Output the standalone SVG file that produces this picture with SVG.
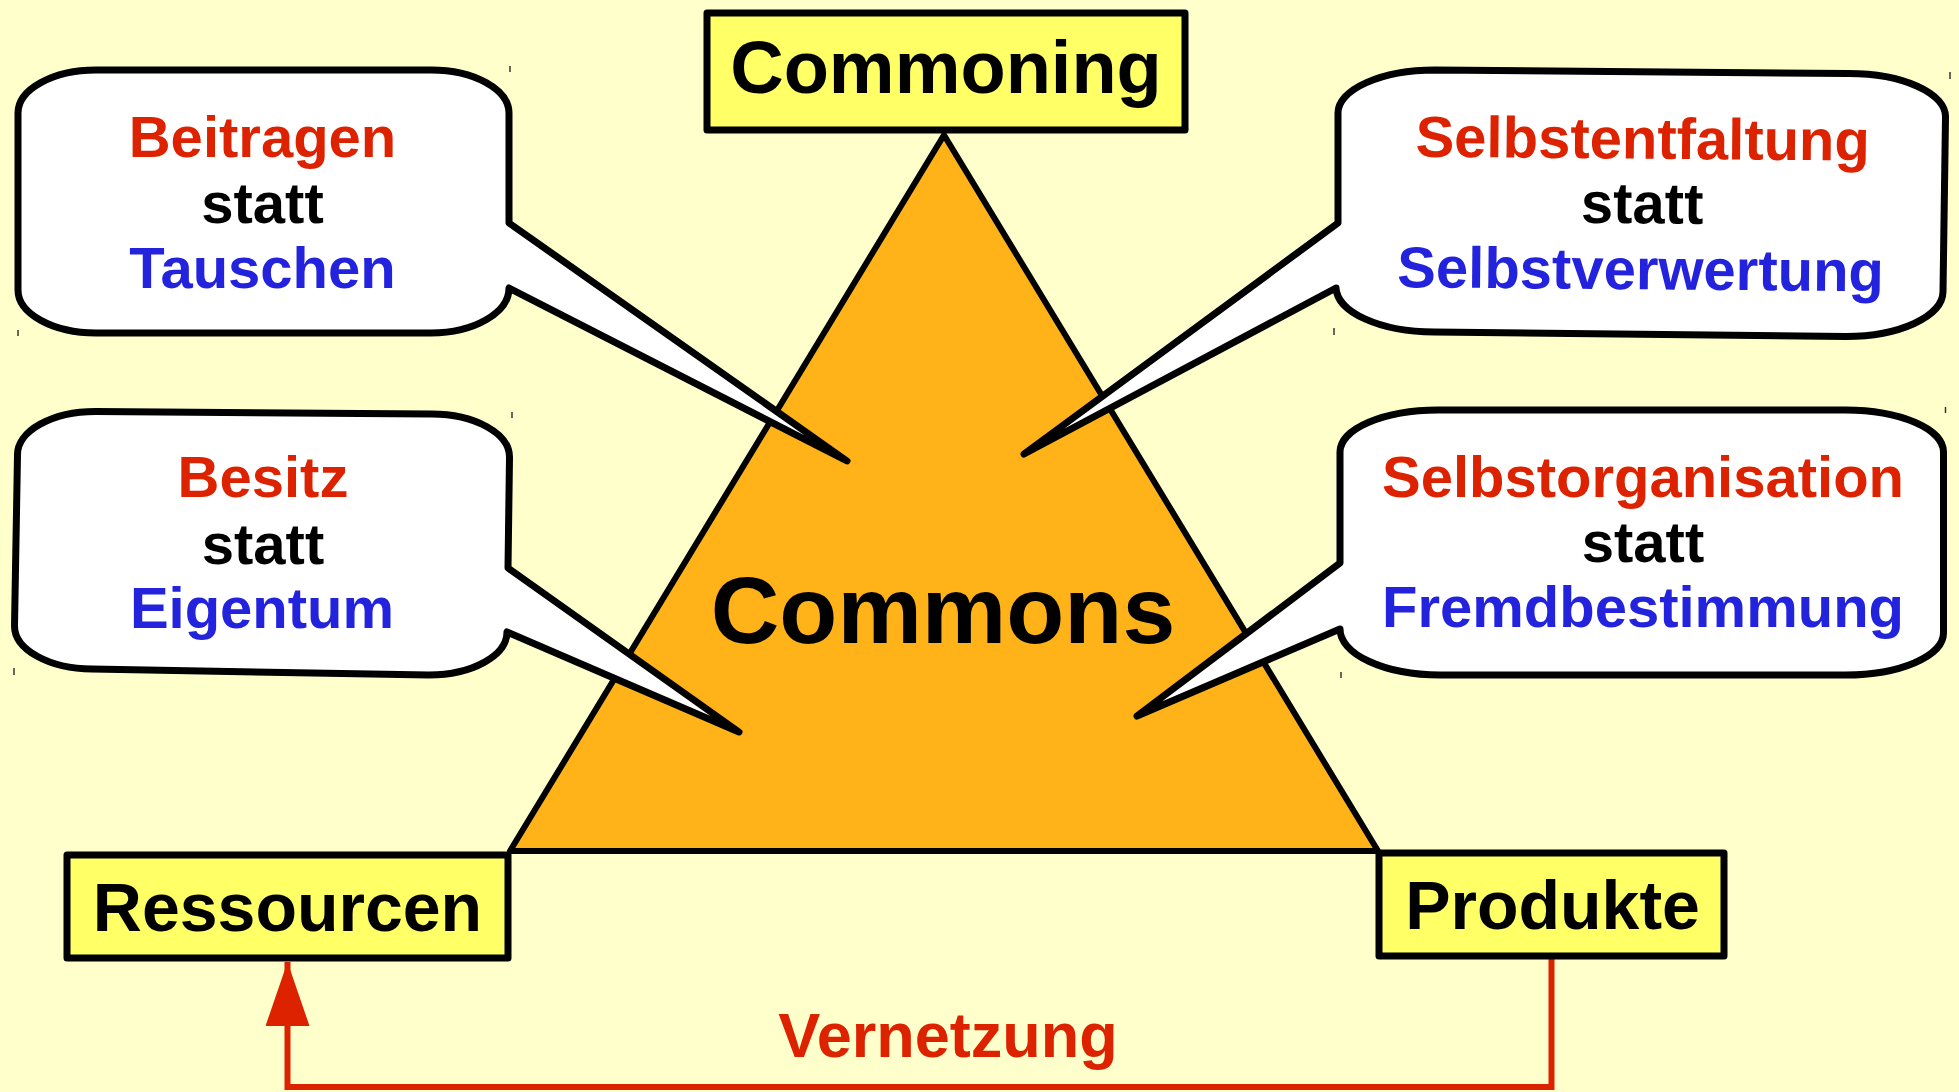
<svg xmlns="http://www.w3.org/2000/svg" width="1959" height="1092" viewBox="0 0 1959 1092">
<defs>
<style>
.bg{fill:#FFFFCC}
.box{fill:#FFFF66;stroke:#000;stroke-width:7;stroke-linejoin:round}
.tri{fill:#FFB319;stroke:#000;stroke-width:6;stroke-linejoin:round}
.bub{fill:#FFFFFF;stroke:#000;stroke-width:7;stroke-linejoin:round}
.tick{stroke:#333;stroke-width:1.5}
text{font-family:"Liberation Sans",Arial,sans-serif;font-weight:bold;text-anchor:middle}
.lbl{font-size:68px;fill:#000}
.bt{font-size:58px}
.r{fill:#DD2200}
.k{fill:#000}
.b{fill:#2323DD}
.conn{fill:none;stroke:#DD2200;stroke-width:6}
</style>
<marker id="arr" markerUnits="userSpaceOnUse" markerWidth="64" markerHeight="44" refX="64" refY="22" orient="auto">
<path d="M0,0 L64,22 L0,44 Z" fill="#DD2200"/>
</marker>
</defs>
<rect class="bg" x="0" y="0" width="1959" height="1092"/>

<g id="commons">
<polygon class="tri" points="944,135 1378,851 510,851"/>
<text x="943" y="643" style="font-size:95px" class="k">Commons</text>
</g>

<g id="connectors">
<path class="conn" d="M1551.5,959 V1087 H287.5 V962" marker-end="url(#arr)"/>
<text x="948" y="1057" style="font-size:63px" class="r">Vernetzung</text>
</g>

<g id="commoning">
<rect class="box" x="707" y="13" width="478" height="117"/>
<text class="lbl" x="946" y="93" style="font-size:74px">Commoning</text>
</g>

<g id="ressourcen">
<rect class="box" x="67" y="855" width="441" height="103"/>
<text class="lbl" x="287.5" y="931">Ressourcen</text>
</g>

<g id="produkte">
<rect class="box" x="1379" y="853" width="345" height="103"/>
<text class="lbl" x="1552.5" y="929">Produkte</text>
</g>

<g id="bubble-beitragen">
<path class="bub" d="M96,70 H431 A78 43 0 0 1 509,113 V223 L847,461 L509,288 A78 45 0 0 1 431,333 H96 A78 43 0 0 1 18,290 V113 A78 43 0 0 1 96,70 Z"/>
<line class="tick" x1="510" y1="66" x2="510" y2="72"/>
<line class="tick" x1="18" y1="330" x2="18" y2="336"/>
<text class="bt r" x="262.5" y="156.7">Beitragen</text>
<text class="bt k" x="262.5" y="222.7">statt</text>
<text class="bt b" x="262.5" y="288.3">Tauschen</text>
</g>

<g id="bubble-besitz">
<path class="bub" d="M96,411.5 L431,414 A78 43 0 0 1 509.5,457 L508,568 L739,732 L507,632 A78 43 0 0 1 429,675 L92,669 A78 43 0 0 1 14.5,626 L17.5,455 A78 43 0 0 1 96,411.5 Z"/>
<line class="tick" x1="512" y1="412" x2="512" y2="418"/>
<line class="tick" x1="14" y1="668" x2="14" y2="675"/>
<text class="bt r" x="263" y="497.3">Besitz</text>
<text class="bt k" x="263" y="564">statt</text>
<text class="bt b" x="262" y="628.3">Eigentum</text>
</g>

<g id="bubble-selbstentfaltung">
<path class="bub" d="M1435,70 L1848,73.5 A97 43 0 0 1 1945.5,117 L1943,292 A97 45 0 0 1 1846,336.5 L1434,332 A98 45 0 0 1 1336,288 L1024,454 L1338,223 L1338,113 A97 43 0 0 1 1435,70 Z"/>
<line class="tick" x1="1950" y1="72" x2="1950" y2="79"/>
<line class="tick" x1="1334" y1="328" x2="1334" y2="335"/>
<g transform="rotate(0.5 1642 223)">
<text class="bt r" x="1642" y="158.7">Selbstentfaltung</text>
<text class="bt k" x="1642" y="223.3">statt</text>
<text class="bt b" x="1641" y="289.3">Selbstverwertung</text>
</g>
</g>

<g id="bubble-selbstorganisation">
<path class="bub" d="M1438,410 L1845.5,410 A98 42 0 0 1 1943.5,452 L1943.5,633 A98 42 0 0 1 1845.5,675 L1440,675 A100 46 0 0 1 1340,629 L1137,716 L1340,563 L1340,452 A98 42 0 0 1 1438,410 Z"/>
<line class="tick" x1="1945.5" y1="407" x2="1945.5" y2="413"/>
<line class="tick" x1="1341" y1="672" x2="1341" y2="678"/>
<text class="bt r" x="1643" y="496.7">Selbstorganisation</text>
<text class="bt k" x="1643" y="562">statt</text>
<text class="bt b" x="1643" y="627">Fremdbestimmung</text>
</g>
</svg>
